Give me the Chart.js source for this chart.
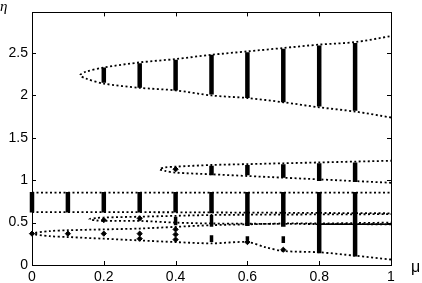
<!DOCTYPE html>
<html>
<head>
<meta charset="utf-8">
<script src="https://cdn.jsdelivr.net/npm/chart.js@4.4.0/dist/chart.umd.min.js"></script>
<style>
  html, body { margin: 0; padding: 0; background: #fff; }
</style>
</head>
<body>
<canvas id="chart" width="422" height="283"></canvas>
<script>
// ------- Data -------
// axis ticks
const xTicks = [0, 0.2, 0.4, 0.6, 0.8, 1];
const xTickLabels = ['0', '0.2', '0.4', '0.6', '0.8', '1'];
const yTicks = [0, 0.5, 1, 1.5, 2, 2.5];
const yTickLabels = ['0', '0.5', '1', '1.5', '2', '2.5'];

// high lobe (starts near mu = 0.13)
const lobeHighMu    = [0.134, 0.15, 0.2, 0.3, 0.4, 0.5, 0.6, 0.7, 0.8, 0.9, 1.0];
const lobeHighUpper = [2.24, 2.28, 2.33, 2.39, 2.43, 2.48, 2.52, 2.56, 2.60, 2.63, 2.70];
const lobeHighLower = [2.24, 2.20, 2.14, 2.09, 2.06, 2.00, 1.97, 1.92, 1.86, 1.81, 1.74];

// middle lobe around eta = 1.1
const lobeMidMu    = [0.355, 0.37, 0.4, 0.5, 0.6, 0.7, 0.8, 0.9, 1.0];
const lobeMidUpper = [1.13, 1.15, 1.16, 1.18, 1.19, 1.20, 1.21, 1.22, 1.23];
const lobeMidLower = [1.13, 1.11, 1.09, 1.07, 1.05, 1.03, 1.01, 0.99, 0.97];

// flat branches
const flatMu   = [0, 0.2, 0.4, 0.6, 0.8, 1.0];
const flatTop  = [0.855, 0.855, 0.855, 0.855, 0.855, 0.855];
const flatLow  = [0.625, 0.624, 0.622, 0.618, 0.614, 0.61];

// lobe starting near mu = 0.16
const lobeCMu    = [0.16, 0.18, 0.2, 0.3, 0.4, 0.5, 0.7, 1.0];
const lobeCUpper = [0.54, 0.555, 0.56, 0.57, 0.58, 0.59, 0.595, 0.60];
const lobeCLower = [0.54, 0.525, 0.52, 0.52, 0.50, 0.49, 0.485, 0.48];

// lobe starting at mu = 0
const lobeDMu    = [0, 0.05, 0.1, 0.2, 0.3, 0.4, 0.5, 0.6, 0.65, 0.7, 0.8, 0.9, 1.0];
const lobeDUpper = [0.37, 0.40, 0.41, 0.42, 0.43, 0.45, 0.47, 0.48, 0.485, 0.49, 0.49, 0.495, 0.50];
const lobeDLower = [0.37, 0.34, 0.33, 0.31, 0.29, 0.27, 0.255, 0.27, 0.21, 0.165, 0.15, 0.11, 0.065];

// short solid segment
const solidMu  = [0.79, 1.0];
const solidEta = [0.48, 0.48];

// thick vertical bars: mu, bottom, top
const barsHighMu  = [0.2, 0.3, 0.4, 0.5, 0.6, 0.7, 0.8, 0.9];
const barsHighLo  = [2.15, 2.09, 2.06, 2.01, 1.97, 1.92, 1.87, 1.82];
const barsHighHi  = [2.33, 2.38, 2.42, 2.48, 2.51, 2.55, 2.59, 2.62];

const barsMainMu  = [0, 0.1, 0.2, 0.3, 0.4, 0.5, 0.6, 0.7, 0.8, 0.9];
const barsMainLo  = [0.62, 0.62, 0.62, 0.62, 0.62, 0.61, 0.46, 0.45, 0.14, 0.10];
const barsMainHi  = [0.86, 0.86, 0.86, 0.86, 0.86, 0.86, 0.86, 0.86, 0.86, 0.86];

const barsMidMu   = [0.5, 0.6, 0.7, 0.8, 0.9];
const barsMidLo   = [1.06, 1.06, 1.03, 0.99, 0.98];
const barsMidHi   = [1.17, 1.18, 1.19, 1.20, 1.21];

const barsLowMu   = [0.4, 0.5, 0.5, 0.6, 0.7];
const barsLowLo   = [0.47, 0.45, 0.27, 0.29, 0.26];
const barsLowHi   = [0.57, 0.59, 0.35, 0.34, 0.34];

// isolated dots
const dotMu  = [0, 0.1, 0.2, 0.2, 0.3, 0.3, 0.3, 0.4, 0.4, 0.4, 0.4, 0.6, 0.7];
const dotEta = [0.37, 0.37, 0.37, 0.53, 0.55, 0.37, 0.31, 1.13, 0.42, 0.36, 0.30, 0.27, 0.18];

// ------- Helpers -------
function toPoints(mu, eta) {
  return mu.map((m, i) => ({ x: m, y: eta[i] }));
}

// closed lobe: lower branch backwards, then upper branch
function lobePoints(mu, upper, lower) {
  const low = toPoints(mu, lower).reverse();
  const up = toPoints(mu, upper).slice(1);
  return low.concat(up);
}

// vertical segments separated by gaps
function barPoints(mu, lo, hi) {
  const pts = [];
  mu.forEach((m, i) => {
    pts.push({ x: m, y: lo[i] });
    pts.push({ x: m, y: hi[i] });
    pts.push({ x: m, y: null });
  });
  return pts;
}

const dotted = {
  type: 'line',
  borderColor: '#000',
  borderWidth: 1.8,
  borderDash: [2, 2.5],
  pointRadius: 0,
  tension: 0.3,
  fill: false,
  clip: false
};

const barStyle = {
  type: 'line',
  borderColor: '#000',
  borderWidth: 4.5,
  pointRadius: 0,
  spanGaps: false,
  fill: false,
  clip: false
};

// ------- Frame, inner ticks and axis symbols -------
const matlabFrame = {
  id: 'matlabFrame',
  afterDraw(chart) {
    const { ctx, chartArea: a, scales } = chart;
    ctx.save();
    ctx.strokeStyle = '#000';
    ctx.lineWidth = 1;
    ctx.strokeRect(Math.round(a.left) + 0.5, Math.round(a.top) + 0.5,
      Math.round(a.right - a.left), Math.round(a.bottom - a.top));

    ctx.beginPath();
    xTicks.forEach(v => {
      const px = Math.round(scales.x.getPixelForValue(v)) + 0.5;
      ctx.moveTo(px, a.bottom); ctx.lineTo(px, a.bottom - 4);
      ctx.moveTo(px, a.top); ctx.lineTo(px, a.top + 4);
    });
    yTicks.forEach(v => {
      const py = Math.round(scales.y.getPixelForValue(v)) + 0.5;
      ctx.moveTo(a.left, py); ctx.lineTo(a.left + 4, py);
      ctx.moveTo(a.right, py); ctx.lineTo(a.right - 4, py);
    });
    ctx.stroke();

    ctx.fillStyle = '#000';
    ctx.font = 'italic 15px "Liberation Serif"';
    ctx.textAlign = 'left';
    ctx.textBaseline = 'alphabetic';
    ctx.fillText('η', 0, 11);
    ctx.font = '16px "Liberation Sans"';
    ctx.fillText('μ', 411, 272);
    ctx.restore();
  }
};

// ------- Chart -------
const ctx = document.getElementById('chart').getContext('2d');
new Chart(ctx, {
  data: {
    datasets: [
      Object.assign({ data: lobePoints(lobeHighMu, lobeHighUpper, lobeHighLower) }, dotted),
      Object.assign({ data: lobePoints(lobeMidMu, lobeMidUpper, lobeMidLower) }, dotted),
      Object.assign({ data: toPoints(flatMu, flatTop) }, dotted, { tension: 0 }),
      Object.assign({ data: toPoints(flatMu, flatLow) }, dotted, { tension: 0 }),
      Object.assign({ data: lobePoints(lobeCMu, lobeCUpper, lobeCLower) }, dotted),
      Object.assign({ data: lobePoints(lobeDMu, lobeDUpper, lobeDLower) }, dotted),
      Object.assign({ data: toPoints(solidMu, solidEta) }, dotted, { borderDash: [], borderWidth: 1.6 }),
      Object.assign({ data: barPoints(barsHighMu, barsHighLo, barsHighHi) }, barStyle),
      Object.assign({ data: barPoints(barsMainMu, barsMainLo, barsMainHi) }, barStyle),
      Object.assign({ data: barPoints(barsMidMu, barsMidLo, barsMidHi) }, barStyle),
      Object.assign({ data: barPoints(barsLowMu, barsLowLo, barsLowHi) }, barStyle, { borderWidth: 3.5 }),
      {
        type: 'scatter',
        data: toPoints(dotMu, dotEta),
        backgroundColor: '#000',
        borderColor: '#000',
        pointStyle: 'rectRot',
        pointRadius: 2.6,
        clip: false
      }
    ]
  },
  options: {
    responsive: false,
    animation: false,
    devicePixelRatio: 1,
    layout: { padding: { left: 0, top: 10, right: 31, bottom: 0 } },
    plugins: {
      legend: { display: false },
      tooltip: { enabled: false }
    },
    scales: {
      x: {
        type: 'linear',
        min: 0,
        max: 1,
        afterBuildTicks: s => { s.ticks = xTicks.map(v => ({ value: v })); },
        afterFit: s => { s.height = 18; },
        grid: { display: false, drawTicks: false },
        border: { display: false },
        ticks: {
          color: '#000',
          padding: 4,
          maxRotation: 0,
          font: { family: '"Liberation Sans"', size: 14 },
          callback: v => xTickLabels[xTicks.indexOf(v)]
        }
      },
      y: {
        type: 'linear',
        min: 0,
        max: 2.98,
        afterBuildTicks: s => { s.ticks = yTicks.map(v => ({ value: v })); },
        afterFit: s => { s.width = 32; },
        grid: { display: false, drawTicks: false },
        border: { display: false },
        ticks: {
          color: '#000',
          padding: 4,
          font: { family: '"Liberation Sans"', size: 14 },
          callback: v => yTickLabels[yTicks.indexOf(v)]
        }
      }
    }
  },
  plugins: [matlabFrame]
});
</script>
</body>
</html>
